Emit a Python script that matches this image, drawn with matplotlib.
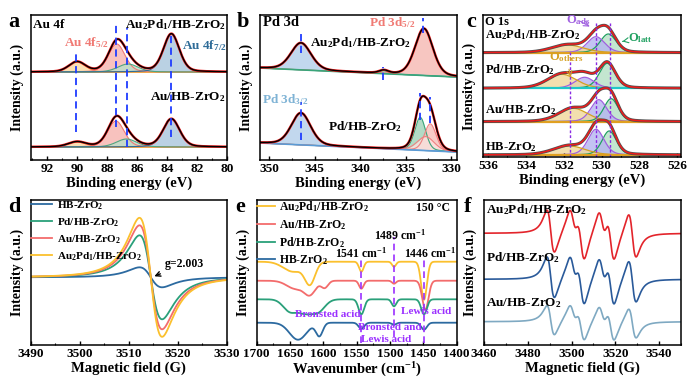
import numpy as np
import matplotlib.pyplot as plt
from matplotlib.ticker import MultipleLocator

plt.rcParams['font.family'] = ['Liberation Serif', 'DejaVu Serif']
plt.rcParams['font.weight'] = 'bold'
plt.rcParams['axes.labelweight'] = 'bold'
plt.rcParams['mathtext.fontset'] = 'custom'
plt.rcParams['mathtext.rm'] = 'Liberation Serif:bold'
plt.rcParams['mathtext.it'] = 'Liberation Serif:bold'
plt.rcParams['mathtext.bf'] = 'Liberation Serif:bold'
plt.rcParams['mathtext.default'] = 'rm'

AUPD = 'Au$_2$Pd$_1$/HB-ZrO$_2$'
AU = 'Au/HB-ZrO$_2$'
PD = 'Pd/HB-ZrO$_2$'
HB = 'HB-ZrO$_2$'

# ---- a: Au 4f XPS (fit components: position eV, height, FWHM) ----
au_base = [88, 13]
au_pos = [[90.0, 87.35, 86.6, 83.7], [90.0, 87.4, 86.7, 83.7]]
au_h = [[10, 28, 8, 38], [5, 26, 8, 28]]
au_w = [[1.3, 1.3, 1.6, 1.25], [1.4, 1.3, 1.6, 1.3]]
au_edge = ['#f4a340', '#f07a74', '#4aa880', '#2f6c98']
au_fill = ['#fbd7a0', '#f7b3ae', '#b9dfc9', '#a9c6dd']
au_vl = [90.05, 87.4, 86.65, 83.7]
au_vl_lo = [28, 33, 13, 23]
au_vl_hi = [110, 138, 132, 127]

# ---- b: Pd 3d XPS ----
pd_base_l = [92, 17]
pd_base_r = [83, 8]
pd_pos = [[346.5, 337.4, 333.0], [346.5, 333.4, 332.3, 332.8]]
pd_h = [[27, 3, 47], [32, 33, 27, 14]]
pd_w = [[2.6, 1.2, 2.3], [2.5, 1.4, 1.5, 2.2]]
pd_edge = [['#5b9bd5', '#3aa57a', '#f08080'], ['#5b9bd5', '#3aa57a', '#f08080', '#f08080']]
pd_fill = [['#b3cfea', '#a8d8c0', '#f6b8b2'], ['#b3cfea', '#9fd3b8', '#f6c0ba', '#fbe3e0']]
pd_vl = [346.5, 337.5, 333.1, 346.5, 333.4, 332.3]
pd_vl_lo = [107, 80, 127, 20, 40, 37]
pd_vl_hi = [127, 93, 142, 58, 67, 63]

# ---- c: O 1s XPS (O_latt, O_ads, O_others) ----
o_base = [104.3, 68.7, 35.3, 2.0]
o_pos = [[529.65, 530.3, 531.8], [529.7, 530.9, 532.1], [529.5, 530.15, 531.5], [529.6, 530.3, 531.7]]
o_h = [[18.7, 16, 7.7], [25, 11, 14], [23, 22, 13.4], [24, 25.7, 9]]
o_w = [[1.0, 1.1, 2.0], [1.0, 1.2, 1.8], [0.9, 1.0, 1.8], [0.9, 1.0, 2.0]]
o_edge = ['#1fa060', '#a060e0', '#d4a020']
o_fill = ['#b5e0c5', '#b4b4f0', '#f0d89a']
o_vl = [531.65, 530.3, 529.56]
o_vl_hi = [107, 135, 135]

# ---- d: EPR (g = 2.003) ----
d_labels = [HB, PD, AU, AUPD]
d_colors = ['#2c6aa0', '#2aa07a', '#f36c6c', '#fbc02d']
d_amp = [10, 42, 52, 59.5]
d_center = 3514.5
d_width = 4.0

# ---- e: pyridine IR at 150 C (band position, depth, FWHM) ----
e_labels = [AUPD, AU, PD, HB]
e_colors = ['#fbc02d', '#f36c6c', '#2aa07a', '#2c6aa0']
e_base = [83.3, 64.3, 45.7, 22.3]
e_pos = [[1645, 1620, 1543, 1494, 1449],
         [1642, 1620, 1598, 1543, 1494, 1447],
         [1650, 1628, 1608, 1543, 1494, 1449],
         [1638, 1606, 1543, 1494, 1449]]
e_dep = [[10, 21, 10, 5, 38],
         [8, 13, 7, 8, 3, 29],
         [12, 12, 12, 15, 7, 15],
         [17, 13, 6, 2, 7]]
e_w = [[35, 18, 8, 7, 10],
       [30, 20, 12, 8, 7, 11],
       [24, 24, 24, 10, 8, 10],
       [30, 12, 10, 8, 10]]
e_vl = [1543, 1494, 1449]
e_vl_lo = [2, 8, 2]
e_vl_hi = [87, 108, 87]

# ---- f: DMPO spin-trapping EPR ----
f_labels = [AUPD, PD, AU]
f_colors = ['#e3242b', '#2a5a9a', '#7fa9c2']
f_base = [111.7, 65.7, 23.3]
f_pos = [3490.5, 3500.7, 3504.3, 3514.0, 3517.9, 3527.8]
f_amp = [[21.7, 16.6, 22.6, 16.6, 22.6, 22.0],
         [21.0, 16.0, 21.5, 16.0, 21.5, 21.0],
         [15.0, 11.5, 16.0, 11.5, 16.0, 15.0]]
f_width = 3.0


def gl(x, c, h, w, m=0.25):
    u = (x - c) / w
    return h * ((1 - m) * np.exp(-4 * np.log(2) * u ** 2) + m / (1 + 4 * u ** 2))


def dlor(x, c, a, g):
    u = (x - c) / g
    return a * (-2 * u / (1 + u ** 2) ** 2) / 0.6495


fig = plt.figure(figsize=(7, 3.88), dpi=100)


def panel(rect, xlim, major, minor, xlabel):
    ax = fig.add_axes(rect)
    ax.set_xlim(*xlim)
    ax.set_yticks([])
    ax.xaxis.set_major_locator(MultipleLocator(major))
    ax.xaxis.set_minor_locator(MultipleLocator(minor))
    ax.tick_params(axis='x', which='both', direction='in', labelsize=9.5, pad=2)
    ax.tick_params(axis='x', which='major', length=3, width=1)
    ax.tick_params(axis='x', which='minor', length=1.6, width=0.8)
    for s in ax.spines.values():
        s.set_linewidth(1.1)
    ax.set_xlabel(xlabel, fontsize=10.5, labelpad=1)
    ax.set_ylabel('Intensity (a.u.)', fontsize=10, labelpad=5)
    return ax


tfs = 9.5

# ---------------- a ----------------
ax = panel([0.0439, 0.5876, 0.28, 0.3737], (93.1, 80), 2, 1, 'Binding energy (eV)')
ax.set_ylim(0, 145)
x = np.linspace(93.1, 80, 600)
for k in range(2):
    b = au_base[k]
    tot = np.zeros_like(x)
    ax.plot(x, np.full_like(x, b), color='#f4a340', lw=1.2)
    for j in range(4):
        p = gl(x, au_pos[k][j], au_h[k][j], au_w[k][j])
        tot += p
        ax.fill_between(x, b, b + p, color=au_fill[j], alpha=0.8, lw=0)
        ax.plot(x, b + p, color=au_edge[j], lw=0.8)
    ax.plot(x, b + tot, color='#ee1c1c', lw=1.8)
    ax.plot(x, b + tot, color='black', lw=1.0)
for xv, lo, hi in zip(au_vl, au_vl_lo, au_vl_hi):
    ax.plot([xv, xv], [lo, hi], color='#1f3cff', ls=(0, (4, 2.5)), lw=1.3)
ax.text(0.012, 0.931, 'Au 4f', transform=ax.transAxes, fontsize=tfs, va='center')
ax.text(0.995, 0.931, AUPD, transform=ax.transAxes, fontsize=tfs, va='center', ha='right')
ax.text(0.285, 0.807, 'Au 4f$_{5/2}$', transform=ax.transAxes, fontsize=tfs, va='center', ha='center', color='#f07a74')
ax.text(0.884, 0.79, 'Au 4f$_{7/2}$', transform=ax.transAxes, fontsize=tfs, va='center', ha='center', color='#2f6c98')
ax.text(0.995, 0.434, AU, transform=ax.transAxes, fontsize=tfs, va='center', ha='right')

# ---------------- b ----------------
ax = panel([0.3714, 0.5876, 0.281, 0.3737], (351, 329.4), 5, 2.5, 'Binding energy (eV)')
ax.set_ylim(0, 145)
x = np.linspace(351, 329.4, 600)
for k in range(2):
    b = np.linspace(pd_base_l[k], pd_base_r[k], x.size)
    tot = np.zeros_like(x)
    for j in range(len(pd_pos[k])):
        p = gl(x, pd_pos[k][j], pd_h[k][j], pd_w[k][j])
        tot += p
        ax.fill_between(x, b, b + p, color=pd_fill[k][j], alpha=0.8, lw=0)
        ax.plot(x, b + p, color=pd_edge[k][j], lw=0.8)
    ax.plot(x, b, color='#3aa57a' if k == 0 else '#5b9bd5', lw=1.2)
    ax.plot(x, b + tot, color='#ee1c1c', lw=1.8)
    ax.plot(x, b + tot, color='black', lw=1.0)
for xv, lo, hi in zip(pd_vl, pd_vl_lo, pd_vl_hi):
    ax.plot([xv, xv], [lo, hi], color='#1f3cff', ls=(0, (4, 2.5)), lw=1.3)
ax.text(0.015, 0.945, 'Pd 3d', transform=ax.transAxes, fontsize=tfs + 1, va='center')
ax.text(0.674, 0.945, 'Pd 3d$_{5/2}$', transform=ax.transAxes, fontsize=tfs, va='center', ha='center', color='#f07a74')
ax.text(0.513, 0.807, AUPD, transform=ax.transAxes, fontsize=tfs, va='center', ha='center')
ax.text(0.127, 0.414, 'Pd 3d$_{3/2}$', transform=ax.transAxes, fontsize=tfs, va='center', ha='center', color='#7fb3d5')
ax.text(0.534, 0.228, PD, transform=ax.transAxes, fontsize=tfs, va='center', ha='center')

# ---------------- c ----------------
ax = panel([0.6904, 0.5954, 0.282, 0.366], (536.26, 525.82), 2, 1, 'Binding energy (eV)')
ax.set_ylim(0, 142)
x = np.linspace(536.26, 525.82, 600)
for k in range(4):
    b = o_base[k]
    tot = np.zeros_like(x)
    for j in range(3):
        p = gl(x, o_pos[k][j], o_h[k][j], o_w[k][j])
        tot += p
        ax.fill_between(x, b, b + p, color=o_fill[j], alpha=0.8, lw=0)
        ax.plot(x, b + p, color=o_edge[j], lw=0.9)
    ax.plot(x, np.full_like(x, b), color='#1ec8c8' if k == 1 else '#e0a020', lw=1.6)
    ax.plot(x, b + tot, color='#505050', lw=2.2)
    ax.plot(x, b + tot, color='#ee1c1c', lw=1.1)
for xv, hi in zip(o_vl, o_vl_hi):
    ax.plot([xv, xv], [0, hi], color='#8a2be2', ls=(0, (2, 1.5)), lw=1.0)
cfs = 9
ax.text(0.009, 0.95, 'O 1s', transform=ax.transAxes, fontsize=cfs, va='center')
for lab, fy in zip([AUPD, PD, AU, HB], [0.862, 0.613, 0.331, 0.07]):
    ax.text(0.009, fy, lab, transform=ax.transAxes, fontsize=cfs, va='center')
ax.annotate('O$_{ads}$', xy=(530.5, 129), xytext=(0.48, 0.965), textcoords='axes fraction',
            fontsize=cfs, color='#a060e0', ha='center', va='center',
            arrowprops=dict(arrowstyle='->', color='#a060e0', lw=0.8))
ax.annotate('O$_{latt}$', xy=(529.05, 115), xytext=(0.733, 0.838), textcoords='axes fraction',
            fontsize=cfs, color='#1fa060', ha='left', va='center',
            arrowprops=dict(arrowstyle='->', color='#1fa060', lw=0.8))
ax.annotate('O$_{others}$', xy=(531.6, 77), xytext=(0.42, 0.705), textcoords='axes fraction',
            fontsize=cfs, color='#d4a020', ha='center', va='center',
            arrowprops=dict(arrowstyle='->', color='#d4a020', lw=0.8))

# ---------------- d ----------------
ax = panel([0.0439, 0.1108, 0.28, 0.3737], (3490, 3530), 10, 5, 'Magnetic field (G)')
ax.set_ylim(-67.7, 77.3)
x = np.linspace(3490, 3530, 800)
for lab, col, a in zip(d_labels, d_colors, d_amp):
    ax.plot(x, dlor(x, d_center, a, d_width), color=col, lw=1.3, label=lab)
ax.legend(loc='upper left', bbox_to_anchor=(-0.01, 1.02), frameon=False, fontsize=8,
          handlelength=1.9, handletextpad=0.4, labelspacing=0.4, borderaxespad=0, borderpad=0.2)
ax.annotate('g=2.003', xy=(d_center + 0.2, 0), xytext=(3517.4, 7.3), fontsize=8.5,
            ha='left', va='bottom', arrowprops=dict(arrowstyle='->', color='black', lw=1.0))

# ---------------- e ----------------
ax = panel([0.3667, 0.1108, 0.2857, 0.3737], (1700, 1400), 50, 25, 'Wavenumber (cm$^{-1}$)')
ax.set_ylim(0, 145)
x = np.linspace(1700, 1400, 800)
for k in range(4):
    y = np.full_like(x, e_base[k])
    for c, dp, w in zip(e_pos[k], e_dep[k], e_w[k]):
        y -= gl(x, c, dp, w, m=0.0)
    ax.plot(x, y, color=e_colors[k], lw=1.3, label=e_labels[k])
for xv, lo, hi in zip(e_vl, e_vl_lo, e_vl_hi):
    ax.plot([xv, xv], [lo, hi], color='#9b30ff', ls=(0, (4, 2.5)), lw=1.2)
ax.legend(loc='upper left', bbox_to_anchor=(-0.01, 1.02), frameon=False, fontsize=8.5,
          handlelength=1.5, handletextpad=0.4, labelspacing=0.3, borderaxespad=0, borderpad=0.2)
ax.text(0.967, 0.945, '150 °C', transform=ax.transAxes, fontsize=8.5, ha='right', va='center')
ax.text(0.524, 0.634, '1541 cm$^{-1}$', transform=ax.transAxes, fontsize=8.5, ha='center', va='center')
ax.text(0.717, 0.759, '1489 cm$^{-1}$', transform=ax.transAxes, fontsize=8.5, ha='center', va='center')
ax.text(0.867, 0.634, '1446 cm$^{-1}$', transform=ax.transAxes, fontsize=8.5, ha='center', va='center')
pc = '#9b30ff'
ax.text(0.357, 0.207, 'Bronsted acid', transform=ax.transAxes, fontsize=8, ha='center', va='center', color=pc)
ax.text(0.666, 0.124, 'Bronsted and', transform=ax.transAxes, fontsize=8, ha='center', va='center', color=pc)
ax.text(0.646, 0.041, 'Lewis acid', transform=ax.transAxes, fontsize=8, ha='center', va='center', color=pc)
ax.text(0.846, 0.23, 'Lewis acid', transform=ax.transAxes, fontsize=8, ha='center', va='center', color=pc)

# ---------------- f ----------------
ax = panel([0.6914, 0.1108, 0.2814, 0.3737], (3460, 3550), 20, 10, 'Magnetic field (G)')
ax.set_ylim(0, 145)
x = np.linspace(3460, 3550, 900)
for k in range(3):
    y = np.full_like(x, f_base[k])
    for c, a in zip(f_pos, f_amp[k]):
        y += dlor(x, c, a, f_width)
    ax.plot(x, y, color=f_colors[k], lw=1.2)
for lab, fy in zip(f_labels, [0.931, 0.6, 0.29]):
    ax.text(0.01, fy, lab, transform=ax.transAxes, fontsize=tfs, va='center')

# panel letters
for s, px, py in [('a', 8, 27.3), ('b', 236.7, 26.7), ('c', 466, 26.7),
                  ('d', 8, 211.7), ('e', 235, 211.7), ('f', 464, 211.7)]:
    fig.text(px / 700, 1 - py / 388, s, fontsize=16, fontweight='bold', va='baseline', ha='left')

fig.savefig('out.png', dpi=100)
